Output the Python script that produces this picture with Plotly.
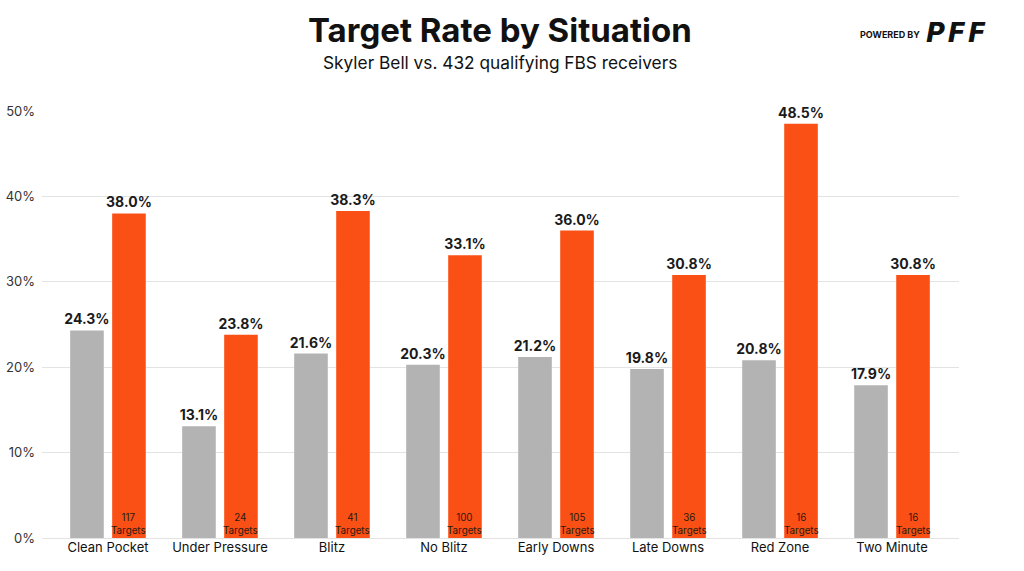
import plotly.graph_objects as go

categories = ["Clean Pocket", "Under Pressure", "Blitz", "No Blitz", "Early Downs", "Late Downs", "Red Zone", "Two Minute"]
fbs_rate = [24.3, 13.1, 21.6, 20.3, 21.2, 19.8, 20.8, 17.9]
bell_rate = [38.0, 23.8, 38.3, 33.1, 36.0, 30.8, 48.5, 30.8]
bell_targets = [117, 24, 41, 100, 105, 36, 16, 16]
y_ticks = [0, 10, 20, 30, 40, 50]
y_tick_labels = ["0%", "10%", "20%", "30%", "40%", "50%"]

FONT = "Inter"
GRAY = "#b3b3b3"
ORANGE = "#fa5015"

L, R, T, B = 42, 959, 111, 538
W = R - L
H = B - T

def px(x):
    return (x - L) / W

def py(y):
    return (B - y) / H

fig = go.Figure()
fig.add_trace(go.Bar(
    x=categories, y=fbs_rate, name="FBS",
    marker=dict(color=GRAY, line=dict(width=0)),
    text=[f"{v:.1f}%" for v in fbs_rate], textposition="outside", constraintext="none",
    textfont=dict(family=FONT, size=14, color="#1a1a1a", weight="bold"),
    cliponaxis=False, hoverinfo="skip",
))
fig.add_trace(go.Bar(
    x=categories, y=bell_rate, name="Skyler Bell",
    marker=dict(color=ORANGE, line=dict(width=0)),
    text=[f"{v:.1f}%" for v in bell_rate], textposition="outside", constraintext="none",
    textfont=dict(family=FONT, size=14, color="#1a1a1a", weight="bold"),
    cliponaxis=False, hoverinfo="skip",
))

annotations = []
for c, t in zip(categories, bell_targets):
    annotations.append(dict(
        x=c, y=0, xref="x", yref="y", xshift=21, yanchor="bottom",
        text=f"{t}<br>Targets", showarrow=False, align="center",
        font=dict(family=FONT, size=9.8, color="#2a1a10"),
    ))

annotations += [
    dict(x=px(500), y=py(30), xref="paper", yref="paper", yanchor="middle", xanchor="center",
         text="<b>Target Rate by Situation</b>", showarrow=False,
         font=dict(family=FONT, size=33, color="#111111")),
    dict(x=px(500), y=py(62), xref="paper", yref="paper", yanchor="middle", xanchor="center",
         text="Skyler Bell vs. 432 qualifying FBS receivers", showarrow=False,
         font=dict(family=FONT, size=17.3, color="#111111")),
    dict(x=px(922), y=py(34), xref="paper", yref="paper",
         xanchor="right", yanchor="middle", text="<b>POWERED BY</b>", showarrow=False,
         font=dict(family=FONT, size=9, color="#111111")),
    dict(x=px(924), y=py(33), xref="paper", yref="paper",
         xanchor="left", yanchor="middle", text="<b><i>P\u200aF\u200aF</i></b>", showarrow=False,
         font=dict(family="DejaVu Sans", size=26, color="#111111")),
]

fig.update_layout(
    width=1024, height=571,
    margin=dict(l=L, r=1024 - R, t=T, b=571 - B, autoexpand=False),
    paper_bgcolor="white", plot_bgcolor="white",
    barmode="group", bargap=0.25, bargroupgap=0.2,
    showlegend=False, hovermode=False,
    font=dict(family=FONT, color="#222222"),
    xaxis=dict(range=[-0.589, 7.598], showgrid=False, showline=False, ticks="", automargin=False,
               tickfont=dict(family=FONT, size=13, color="#111111"), fixedrange=True),
    yaxis=dict(range=[0, 50], tickvals=y_ticks, ticktext=y_tick_labels, automargin=False,
               showgrid=True, gridcolor="#e3e3e3", gridwidth=1, zeroline=True,
               zerolinecolor="#e3e3e3", zerolinewidth=1, showline=False, ticks="",
               tickfont=dict(family=FONT, size=13, color="#333333"), ticklabelstandoff=6,
               fixedrange=True),
    annotations=annotations,
)

fig.write_html("out.html", config={"displayModeBar": False, "staticPlot": True},
               post_script="document.body.style.margin='0';document.body.style.overflow='hidden';")
